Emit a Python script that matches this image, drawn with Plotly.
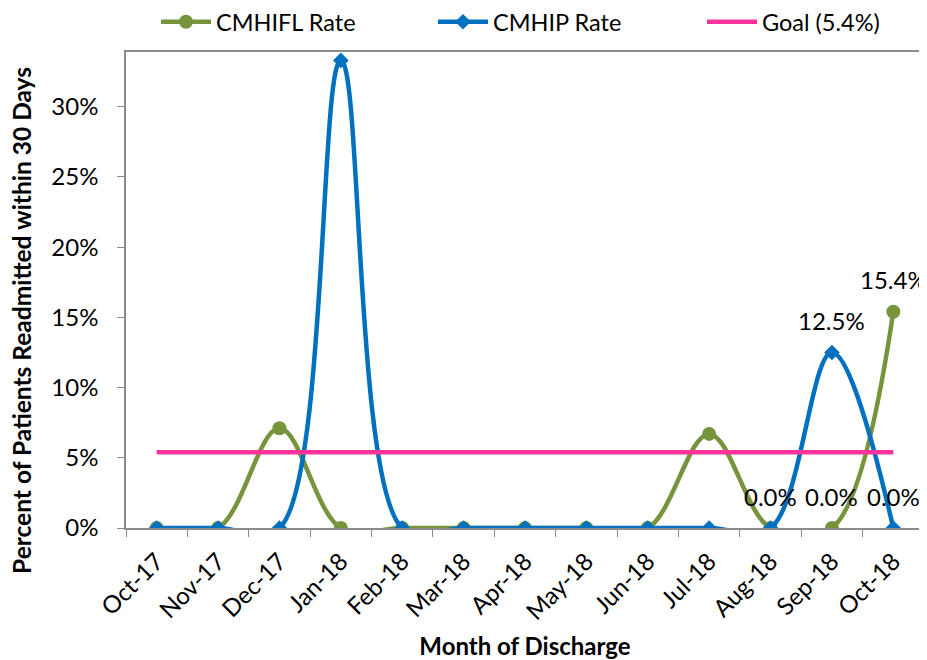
import plotly.graph_objects as go

months = ["Oct-17", "Nov-17", "Dec-17", "Jan-18", "Feb-18", "Mar-18", "Apr-18",
          "May-18", "Jun-18", "Jul-18", "Aug-18", "Sep-18", "Oct-18"]
cmhifl = [0.0, 0.0, 0.071, 0.0, 0.0, 0.0, 0.0, 0.0, 0.0, 0.067, 0.0, 0.0, 0.154]
cmhip = [0.0, 0.0, 0.0, 0.333, 0.0, 0.0, 0.0, 0.0, 0.0, 0.0, 0.0, 0.125, 0.0]
goal = [0.054] * len(months)
cmhifl_labeled = ["Sep-18", "Oct-18"]
cmhip_labeled = ["Aug-18", "Sep-18", "Oct-18"]

GREEN = "#77933C"
BLUE = "#0070C0"
PINK = "#FF3399"
AXIS = "#8C8C8C"
FONT = "Lato"
FS = 24

# page body has an 8px default margin; size the figure to fit the window
W, H = 919, 652

fig = go.Figure()
fig.add_trace(go.Scatter(x=months, y=cmhifl, name="CMHIFL Rate", mode="lines+markers",
                         line=dict(color=GREEN, width=4.5, shape="spline", smoothing=1),
                         marker=dict(symbol="circle", size=14, color=GREEN),
                         legend="legend"))
fig.add_trace(go.Scatter(x=months, y=cmhip, name="CMHIP Rate", mode="lines+markers",
                         line=dict(color=BLUE, width=4.5, shape="spline", smoothing=1),
                         marker=dict(symbol="diamond", size=12, color=BLUE),
                         legend="legend2"))
fig.add_trace(go.Scatter(x=months, y=goal, name="Goal (5.4%)", mode="lines",
                         line=dict(color=PINK, width=4.5), legend="legend3"))

annotations = []
for series, labeled in ((cmhifl, cmhifl_labeled), (cmhip, cmhip_labeled)):
    for m in labeled:
        v = series[months.index(m)]
        annotations.append(dict(x=m, y=v, xref="x", yref="y", text=f"{v*100:.1f}%",
                                showarrow=False, yshift=32,
                                font=dict(family=FONT, size=FS, color="black")))

# y axis title (placed like the original, slightly below the plot centre)
annotations.append(dict(text="<b>Percent of Patients Readmitted within 30 Days</b>",
                        xref="paper", yref="paper", x=0, y=0.435, xshift=-104,
                        xanchor="center", yanchor="middle", textangle=-90,
                        showarrow=False, font=dict(family=FONT, size=24.5, color="black")))


def legend_box(x_px):
    return dict(orientation="h", x=x_px / W, xref="container", xanchor="left",
                y=1 - 14 / H, yref="container", yanchor="middle",
                font=dict(family=FONT, size=23.5), itemwidth=50,
                bgcolor="rgba(0,0,0,0)")


fig.update_layout(
    width=W, height=H,
    margin=dict(l=118, r=3, t=44, b=132, autoexpand=False),
    paper_bgcolor="white", plot_bgcolor="white",
    font=dict(family=FONT, size=FS, color="black"),
    showlegend=True,
    legend=legend_box(148),
    legend2=legend_box(425),
    legend3=legend_box(694),
    annotations=annotations,
    xaxis=dict(type="category", range=[-0.5, 12.5], tickson="boundaries",
               ticks="outside", ticklen=7, tickcolor=AXIS,
               showline=True, linecolor=AXIS, linewidth=1.5, mirror=True,
               showgrid=False, zeroline=False, tickangle=-45, automargin=False,
               ticklabelstandoff=8,
               tickfont=dict(family=FONT, size=FS),
               title=dict(text="<b>Month of Discharge</b>", font=dict(family=FONT, size=FS),
                          standoff=18)),
    yaxis=dict(range=[0, 0.339], dtick=0.05, tickformat=".0%",
               ticks="outside", ticklen=7, tickcolor=AXIS,
               showline=True, linecolor=AXIS, linewidth=1.5, mirror=True,
               showgrid=False, zeroline=False, automargin=False,
               ticklabelstandoff=14,
               tickfont=dict(family=FONT, size=FS)),
)

fig.write_html("out.html")
